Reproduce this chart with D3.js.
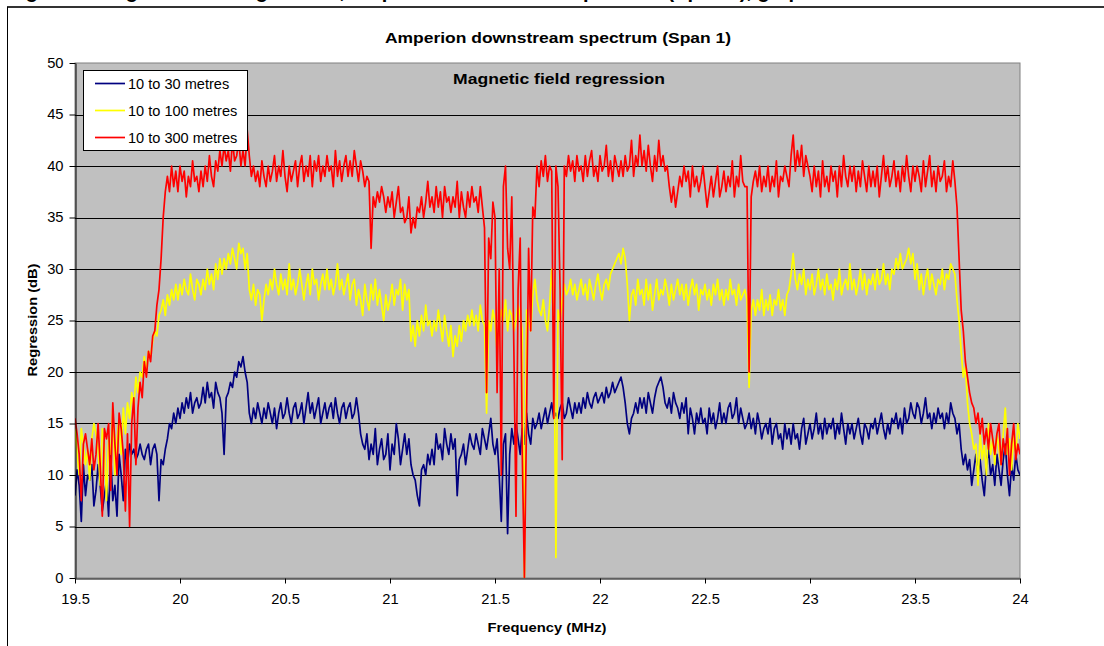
<!DOCTYPE html>
<html>
<head>
<meta charset="utf-8">
<script src="https://cdn.jsdelivr.net/npm/d3@7"></script>
<style>
  html, body { margin: 0; padding: 0; background: #fff; }
  svg { display: block; font-family: "Liberation Sans", Arial, sans-serif; }
</style>
</head>
<body>
<svg id="chart" width="1104" height="646"></svg>
<script>
// ---- data ----
const freqStart = 19.5;
const freqStep = 0.01;
const xTicks = [19.5, 20, 20.5, 21, 21.5, 22, 22.5, 23, 23.5, 24];
const xTickLabels = ["19.5", "20", "20.5", "21", "21.5", "22", "22.5", "23", "23.5", "24"];
const yTicks = [0, 5, 10, 15, 20, 25, 30, 35, 40, 45, 50];
const seriesNames = ["10 to 30 metres", "10 to 100 metres", "10 to 300 metres"];

const navy = [
  8, 10.5, 9, 5.5, 11, 8, 10, 9.5, 11, 7,
  8.5, 11, 9, 6.5, 8, 9.5, 6, 12, 7.5, 9,
  6, 12, 10, 7.5, 12.5, 11, 13, 12, 12.5, 11.5,
  12, 13, 12, 11.5, 12.5, 13, 11, 12.5, 13, 12,
  7.5, 11.5, 11, 12.5, 13.5, 15, 14.5, 16, 15, 16.5,
  15.5, 17, 16, 17.5, 16.5, 18, 16, 17, 17.5, 16.5,
  17, 18.5, 17, 19, 17.5, 18, 16.5, 19, 18, 17.5,
  16, 12, 17.5, 18, 19, 18.5, 20, 19.5, 21, 20.5,
  21.5, 20, 19, 16, 15, 16.5, 15.5, 17, 16, 15,
  16.5, 15.5, 17, 16, 15, 16.5, 14.5, 16, 17, 15.5,
  16, 17.5, 16, 15, 16.5, 17, 15.5, 16, 17, 15,
  16.5, 18, 16, 17, 15.5, 16.5, 17.5, 15, 16, 17,
  15.5, 16.5, 17, 15.5, 17.5, 16, 15, 16.5, 17, 15.5,
  16.5, 17, 15.5, 16, 17.5, 16, 14, 13, 12.5, 14,
  11.5, 13, 12, 14.5, 11, 12.5, 13.5, 11.5, 12, 14,
  10.5, 13, 12, 15, 13.5, 11, 12.5, 14, 12, 13.5,
  11, 10, 9.5, 8, 7, 10.5, 11, 10, 12, 11,
  12.5, 11, 14, 12.5, 13, 11.5, 14.5, 13, 12, 14,
  12.5, 13.5, 8, 11.5, 12, 13, 11, 12.5, 14, 13,
  12.5, 14, 13, 12, 14.5, 13.5, 12.5, 14, 15.5, 13,
  12, 13.5, 10, 5.5, 13, 14, 4.3, 12, 14.5, 13,
  15, 13.5, 12, 14.5, 13, 16, 14, 13, 15.5, 14.5,
  15, 16, 14.5, 15.5, 16.5, 15, 16, 17, 15.5, 16,
  15.5, 16.5, 17, 15.5, 16, 17.5, 16.5, 15.5, 17, 16,
  17, 16, 17.5, 16.5, 18, 17, 16.5, 17.5, 18, 17,
  17.5, 18, 17, 18.5, 17.5, 18, 19, 18, 18.5, 19,
  19.5, 18.5, 17, 15, 14, 15.5, 16, 17, 16, 17.5,
  16.5, 17.5, 16, 18, 17, 16, 17.5, 18.5, 19, 19.5,
  18.5, 17, 16.5, 17.5, 16, 18, 17, 16.5, 15.5, 17,
  16, 17.5, 14, 16.5, 15.5, 14, 16, 15, 16.5, 15,
  15.5, 14, 16.5, 15, 16, 14.5, 15.5, 17, 15, 16,
  15, 16.5, 17, 15.5, 16, 17.5, 15, 16.5, 15.5, 14.5,
  15, 16, 14.5, 15.5, 14, 16, 15, 13.5, 14.5, 15,
  14, 15.5, 13, 14.5, 15, 13.5, 14, 12.5, 15, 13.5,
  14.5, 13, 15, 13.5, 14, 12.5, 14.5, 15.5, 13, 14,
  15, 13.5, 14.5, 16, 14, 15, 13.5, 15.5, 14, 15,
  14.5, 15.5, 13.5, 15, 14, 16, 14.5, 13, 15, 14,
  15, 13.5, 14.5, 15.5, 14, 13, 15, 14.5, 13.5, 15,
  14.5, 15.5, 14, 15, 16, 14.5, 13.5, 15, 14, 15.5,
  15, 16, 14.5, 15.5, 14, 16.5, 15, 15.5, 17, 16,
  15.5, 17, 16.5, 15, 16, 17.5, 15.5, 16, 14.5, 16,
  15, 16.5, 15.5, 16, 14.5, 16, 15, 17, 16, 15.5,
  14, 15, 12.5, 11, 12, 10.5, 11.5, 9, 10.5, 12,
  10, 11.5, 9.5, 8, 11, 12.5, 10, 11, 9, 12,
  10.5, 9, 11.5, 13, 10, 8, 11, 9.5, 12, 10.5,
  10
];

const yellow = [
  14.5, 12, 10, 14.5, 13, 11, 12.5, 9.5, 13.5, 15,
  14, 12.5, 9, 14.5, 13, 7.5, 13.5, 12, 16.5, 10,
  13.5, 15.5, 12, 16.5, 14, 17, 15.5, 18, 16.5, 19.5,
  18, 20, 19.5, 21.5, 20, 22, 21.5, 23, 24, 23.5,
  25.5, 26, 27, 25.5, 27.5, 26.5, 28, 27, 28.5, 27,
  28.5, 27.5, 29, 28, 27.5, 29.5, 28, 27, 29, 28.5,
  27.5, 29, 28, 30, 28.5, 29.5, 28, 30.5, 29, 31,
  29.5, 31, 30, 31.5, 30.5, 32, 31, 30, 32.5, 31.5,
  32, 30, 31.5, 28, 27, 28.5, 26.5, 28, 27.5, 25,
  27, 28.5, 27.5, 29, 28, 30, 28.5, 27.5, 29.5, 28,
  29, 27.5, 30.5, 28, 29, 27.5, 28.5, 30, 28.5, 27,
  28.5, 29.5, 27.5, 30, 28.5, 29, 27, 28.5, 29.5, 28,
  30, 28, 29, 27.5, 28.5, 30.5, 28, 29, 27.5, 28.5,
  29.5, 27, 28.5, 29, 26.5, 28, 27, 25.5, 28.5, 27,
  26, 28.5, 27, 29, 26.5, 28, 26.5, 25, 27.5, 26,
  27, 28.5, 26.5, 28, 27.5, 29, 26, 28.5, 27, 28,
  23, 24.5, 22.5, 25, 23.5, 25.5, 24, 26.5, 24.5, 25,
  23.5, 25, 24, 26, 24.5, 23, 25.5, 24, 22.5, 24.5,
  21.5, 23.5, 22.5, 24.5, 23, 25, 24, 25.5, 24.5, 26,
  24.5, 25.5, 24, 26.5, 25, 24.5, 16, 25, 24, 26,
  25, 22, 24.5, 26, 25, 27, 24, 26, 25.5, 24,
  25, 26.5, 25.5, 24, 0, 26, 25, 24, 27.5, 29,
  27, 26, 25.5, 27, 25, 24, 26.5, 30, 26, 2,
  26, 25, 27, 28.5, 27.5, 28, 29, 27.5, 28.5, 27,
  28, 29, 27.5, 28.5, 27, 29, 28, 27, 28.5, 29.5,
  28, 27, 28.5, 29, 28, 29.5, 30, 30.5, 31, 31.5,
  30.5, 32, 31, 28.5, 25, 27.5, 28, 26.5, 29, 27.5,
  28, 26.5, 29, 27, 28.5, 26, 27.5, 29, 27, 28,
  27.5, 29, 28, 26.5, 28.5, 27, 28, 29, 27.5, 28.5,
  27, 28.5, 26.5, 28, 29, 27.5, 28.5, 26, 28, 27.5,
  28.5, 27, 28, 26.5, 28.5, 27.5, 29, 27, 28, 26.5,
  28, 27, 29, 27.5, 28, 26.5, 28.5, 27, 27.5, 28,
  27, 18.5, 26, 27, 25.5, 27, 26, 28, 25.5, 27,
  26, 27.5, 25.5, 27, 26.5, 28, 26, 27, 25.5, 27.5,
  28, 29.5, 31.5, 29, 28, 29.5, 28.5, 30, 27.5, 29,
  28, 29.5, 27.5, 28.5, 30, 28, 29, 27.5, 29.5, 28,
  28.5, 27, 29, 28, 30, 27.5, 28.5, 29, 28, 30.5,
  28, 29, 27.5, 28.5, 30, 28, 29.5, 27.5, 29, 28.5,
  29.5, 28, 30, 28.5, 29, 30.5, 28.5, 29.5, 28, 30,
  29.5, 31, 30, 31.5, 30, 30.5, 31, 32, 30.5, 31.5,
  29, 30.5, 28, 29.5, 27.5, 29, 30, 28, 29.5, 28.5,
  27.5, 29, 28.5, 30, 28, 29.5, 29, 30.5, 30, 29.5,
  27, 25, 22, 19.5, 20.5, 17, 15, 14, 12.5, 13,
  9, 14, 11.5, 13, 10, 15, 12, 13.5, 11, 14,
  12.5, 11, 14, 16.5, 12, 13.5, 10.5, 14, 12, 15,
  13.5
];

const red = [
  15.5, 14, 12, 7.5, 13, 14, 12.5, 11, 13.5, 10.5,
  12, 15, 11, 6, 14.5, 13.5, 15, 8.5, 17, 13,
  10, 16, 14.5, 12, 6.5, 14, 5, 15, 17.5, 11,
  16.5, 19, 17.5, 21, 19.5, 22, 21, 23.5, 24, 26.5,
  28, 31, 35, 37.5, 39, 37.5, 40, 38, 39.5, 37.5,
  40, 38.5, 39.5, 37, 39, 38, 40.5, 38.5, 39, 37.5,
  39.5, 38, 40, 38.5, 41, 39, 38, 40.5, 39.5, 41.5,
  40, 42, 40.5, 41.5, 39.5, 42.5, 40.5, 41, 42.5, 40,
  41.5, 40, 43.5, 41, 39, 40, 38.5, 39.5, 38, 40.5,
  39, 38, 40, 38.5, 39.5, 41, 38.5, 40, 39, 41.5,
  39, 37.5, 40, 38.5, 39.5, 40.5, 38, 40, 41, 38.5,
  40, 39, 41, 38, 40.5, 39.5, 41, 38.5, 40, 39,
  41, 39.5, 40, 38, 41.5, 39, 40.5, 38.5, 40, 41,
  39, 40.5, 39, 41.5, 40, 38.5, 40.5, 39.5, 38, 39,
  38.5, 32, 37, 36, 37.5, 36.5, 38, 37, 35.5, 37,
  36, 37.5, 35, 36.5, 38, 35.5, 36, 34.5, 35, 37,
  33.5, 35, 34, 36, 35.5, 37, 35, 36.5, 38.5, 36,
  37, 35.5, 38, 36, 37.5, 35, 38, 36.5, 37, 35.5,
  37, 36, 38.5, 35, 37.5, 36, 35, 37.5, 36, 38,
  36.5, 37, 35.5, 38, 36, 34, 18, 33, 31, 36.5,
  35, 18, 30, 10, 38, 40, 32, 30, 37, 22,
  6, 28, 33, 12, 0, 15, 32, 24, 36, 35,
  40, 38, 40.5, 39, 41, 38.5, 40, 39.5, 15.5, 40,
  38, 28, 11.5, 40, 39, 41, 39.5, 40.5, 38.5, 41,
  39.5, 40, 38.5, 41, 39, 40.5, 41.5, 39, 40, 38.5,
  41, 39.5, 40, 42, 39, 40.5, 38.5, 41, 40, 39,
  40.5, 39, 41, 39.5, 40, 42.5, 39, 41, 40, 43,
  40, 41.5, 39.5, 42, 40, 38.5, 41, 39.5, 42.5, 40,
  41, 39.5, 40, 38, 36.5, 38, 36, 37.5, 39, 38,
  40, 38.5, 39.5, 37, 40, 38, 39, 37.5, 38.5, 40,
  38, 36, 37.5, 39, 37, 38.5, 40, 37, 38, 39.5,
  37.5, 39, 38, 40.5, 37, 39, 38, 41, 38.5, 38,
  38, 20, 37, 38.5, 39.5, 38, 40, 37.5, 39, 38,
  40, 37.5, 39, 38, 40.5, 37, 39, 38.5, 40, 39,
  38, 41, 43, 39.5, 41.5, 40, 42, 39, 41, 40,
  39, 37.5, 40, 38, 39.5, 37, 40.5, 38, 39, 37.5,
  40, 38.5, 39.5, 37, 40, 38, 41, 39, 38, 40,
  38.5, 40, 37.5, 39.5, 38, 40.5, 39, 37.5, 40, 38,
  39.5, 38, 40, 37, 39, 41, 38.5, 40, 38, 39,
  40.5, 38, 39.5, 37.5, 40, 38.5, 41, 39, 37.5, 40,
  38.5, 40, 39, 37.5, 40.5, 38, 39.5, 41, 38, 39.5,
  37.5, 40, 38.5, 39, 40.5, 37.5, 39, 38, 40.5, 38.5,
  36, 31, 26, 24, 21, 19.5, 18, 17, 16.5, 15,
  16, 14, 15.5, 13, 14.5, 12.5, 15, 13.5, 12, 14,
  15, 11, 13.5, 12, 14.5, 10, 13, 15, 11.5, 13,
  12
];

const seriesValues = [navy, yellow, red];
const seriesColors = ["#000080", "#FFFF00", "#FF0000"];

// ---- chart ----
const svg = d3.select("#chart");
const W = 1104, H = 646;
const plot = { left: 75, right: 1020, top: 63, bottom: 578 };

const x = d3.scaleLinear().domain([19.5, 24]).range([plot.left, plot.right]);
const y = d3.scaleLinear().domain([0, 50]).range([plot.bottom, plot.top]);

// widen text horizontally to mimic the reference's wide glyph rendering
function widen(sel, factor) {
  sel.each(function () {
    const w = this.getComputedTextLength();
    d3.select(this).attr("textLength", w * factor).attr("lengthAdjust", "spacingAndGlyphs");
  });
}

// outer frame and clipped caption
svg.append("text")
  .attr("x", 8).attr("y", -2)
  .attr("font-size", 20).attr("font-weight", "bold").attr("fill", "#000")
  .text("Figure 9: Magnetic field regression, Amperion downstream spectrum (Span 1), graph");
svg.append("line").attr("x1", 7).attr("x2", W).attr("y1", 7).attr("y2", 7)
  .attr("stroke", "#333").attr("stroke-width", 2);
svg.append("line").attr("x1", 7.5).attr("x2", 7.5).attr("y1", 7).attr("y2", H)
  .attr("stroke", "#000").attr("stroke-width", 1);

// plot background
svg.append("rect")
  .attr("x", plot.left).attr("y", plot.top)
  .attr("width", plot.right - plot.left).attr("height", plot.bottom - plot.top)
  .attr("fill", "#C0C0C0").attr("stroke", "#808080").attr("stroke-width", 1);

// gridlines
svg.append("g").selectAll("line")
  .data(yTicks.filter(d => d > 0 && d < 50))
  .join("line")
  .attr("x1", plot.left).attr("x2", plot.right)
  .attr("y1", d => Math.round(y(d)) + 0.5).attr("y2", d => Math.round(y(d)) + 0.5)
  .attr("stroke", "#000").attr("stroke-width", 1);

// lines
svg.append("defs").append("clipPath").attr("id", "clip")
  .append("rect").attr("x", plot.left).attr("y", plot.top - 2)
  .attr("width", plot.right - plot.left).attr("height", plot.bottom - plot.top + 2);

const line = d3.line()
  .x((d, i) => x(freqStart + i * freqStep))
  .y(d => y(d));

const lg = svg.append("g").attr("clip-path", "url(#clip)");
seriesValues.forEach((vals, k) => {
  lg.append("path")
    .datum(vals)
    .attr("d", line)
    .attr("fill", "none")
    .attr("stroke", seriesColors[k])
    .attr("stroke-width", 1.7)
    .attr("stroke-linejoin", "round");
});

// axes
const yAxis = d3.axisLeft(y).tickValues(yTicks).tickSize(6).tickSizeOuter(0).tickPadding(6)
  .tickFormat(d3.format("d"));
const gy = svg.append("g").attr("transform", `translate(${plot.left + 0.5},0)`).call(yAxis);
const xAxis = d3.axisBottom(x).tickValues(xTicks).tickSize(5).tickSizeOuter(0).tickPadding(11)
  .tickFormat((d, i) => xTickLabels[i]);
const gx = svg.append("g").attr("transform", `translate(0,${plot.bottom + 0.5})`).call(xAxis);
[gx, gy].forEach(g => {
  g.select(".domain").attr("stroke", "#000");
  g.selectAll(".tick line").attr("stroke", "#000");
  g.selectAll(".tick text").attr("font-size", 14).attr("fill", "#000")
    .attr("font-family", "'Liberation Sans', Arial, sans-serif");
  widen(g.selectAll(".tick text"), 1.05);
});

// titles
svg.append("text").attr("x", 558).attr("y", 43).attr("text-anchor", "middle")
  .attr("font-size", 15).attr("font-weight", "bold")
  .attr("textLength", 346).attr("lengthAdjust", "spacingAndGlyphs")
  .text("Amperion downstream spectrum (Span 1)");
svg.append("text").attr("x", 559).attr("y", 84).attr("text-anchor", "middle")
  .attr("font-size", 15).attr("font-weight", "bold")
  .attr("textLength", 212).attr("lengthAdjust", "spacingAndGlyphs")
  .text("Magnetic field regression");
svg.append("text").attr("x", 547).attr("y", 632).attr("text-anchor", "middle")
  .attr("font-size", 13).attr("font-weight", "bold")
  .attr("textLength", 119).attr("lengthAdjust", "spacingAndGlyphs")
  .text("Frequency (MHz)");
svg.append("text").attr("transform", "translate(37,320) rotate(-90)")
  .attr("text-anchor", "middle")
  .attr("font-size", 13).attr("font-weight", "bold")
  .attr("textLength", 113).attr("lengthAdjust", "spacingAndGlyphs")
  .text("Regression (dB)");

// legend
const leg = svg.append("g").attr("transform", "translate(83.5,70.5)");
leg.append("rect").attr("width", 164).attr("height", 80)
  .attr("fill", "#fff").attr("stroke", "#000").attr("stroke-width", 1);
seriesNames.forEach((name, k) => {
  const ly = 13 + k * 27;
  leg.append("line").attr("x1", 11.5).attr("x2", 41.5).attr("y1", ly).attr("y2", ly)
    .attr("stroke", seriesColors[k]).attr("stroke-width", 1.7);
  const t = leg.append("text").attr("x", 44.5).attr("y", ly + 5.5)
    .attr("font-size", 14).text(name);
  widen(t, 1.04);
});
</script>
</body>
</html>
